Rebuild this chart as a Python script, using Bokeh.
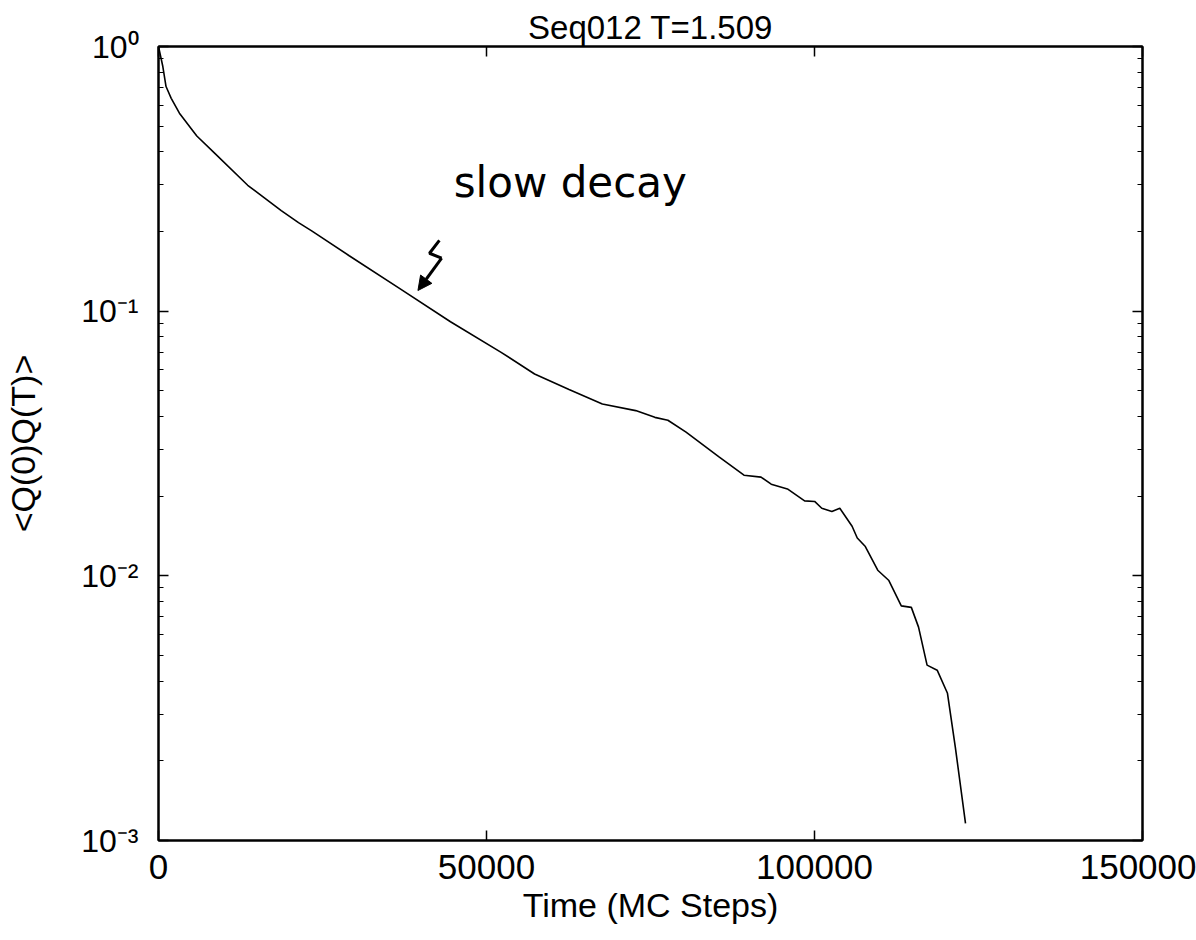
from bokeh.plotting import figure
from bokeh.models import (LogAxis, LinearAxis, FixedTicker, LogTicker, CustomJSTickFormatter,
                          Label, Arrow, NormalHead, Range1d)
from bokeh.embed import file_html
from bokeh.resources import INLINE

# ---- data ----
mc_steps = [0, 660, 1150, 1940, 3190, 5840, 8470, 13600, 18710, 21340, 23350, 29070,
            36790, 44510, 52230, 57330, 62580, 67660, 72740, 75660, 77650, 80420,
            85390, 89250, 91850, 93400, 95870, 98490, 100020, 101110, 102650, 103860,
            105730, 106520, 107750, 109640, 111340, 113230, 114760, 115860, 117160,
            118700, 120270, 121460, 123020]
q_corr = [1.0, 0.84, 0.706, 0.637, 0.56, 0.459, 0.397, 0.299, 0.240, 0.216, 0.201, 0.162,
          0.1216, 0.0912, 0.0699, 0.0579, 0.0506, 0.0446, 0.0421, 0.0397, 0.0387, 0.0349,
          0.0282, 0.0240, 0.0236, 0.0222, 0.0213, 0.0192, 0.0191, 0.0180, 0.0175, 0.0180,
          0.0154, 0.0139, 0.0129, 0.0105, 0.0096, 0.0077, 0.0076, 0.0064, 0.0046,
          0.0044, 0.0036, 0.00226, 0.00116]
x_ticks = [0, 50000, 100000, 150000]

# hand-drawn annotation (zig-zag arrow) in data coordinates
note_text = "slow decay"
note_pos = (45000, 0.305)
zig_x = [42820, 41310, 43160]
zig_y = [0.185, 0.1655, 0.1585]
arrow_tip = (39550, 0.1197)

FONT = "Liberation Sans"

p = figure(width=1196, height=940, y_axis_type="log",
           x_range=Range1d(0, 150000), y_range=Range1d(1e-3, 1),
           output_backend="svg", toolbar_location=None,
           min_border_left=158, min_border_right=54, min_border_top=46, min_border_bottom=100)

p.title.text = "Seq012 T=1.509"
p.title.align = "center"
p.title.text_font = FONT
p.title.text_font_size = "33px"
p.title.text_font_style = "normal"
p.title.text_color = "black"
p.title.standoff = 2

p.xgrid.visible = False
p.ygrid.visible = False
p.background_fill_color = "white"
p.border_fill_color = "white"
p.outline_line_color = "black"
p.outline_line_width = 2

sup_js = """
const sup = {"-": "\\u207B", "0": "\\u2070", "1": "\\u00B9", "2": "\\u00B2", "3": "\\u00B3",
             "4": "\\u2074", "5": "\\u2075", "6": "\\u2076", "7": "\\u2077", "8": "\\u2078", "9": "\\u2079"};
const e = Math.round(Math.log10(tick));
return "10" + String(e).split("").map(c => sup[c]).join("");
"""
int_js = "return tick.toFixed(0);"
blank_js = "return '';"

def style_x(ax, labels=True):
    ax.ticker = FixedTicker(ticks=x_ticks, minor_ticks=[])
    ax.major_tick_in = 10
    ax.major_tick_out = 0
    ax.minor_tick_in = 0
    ax.minor_tick_out = 0
    ax.axis_line_color = "black"
    ax.axis_line_width = 2
    ax.major_tick_line_color = "black"
    ax.major_tick_line_width = 1.5
    ax.major_label_text_font = FONT
    ax.major_label_text_font_size = "35px"
    ax.major_label_text_color = "black"
    ax.major_label_standoff = 14
    if labels:
        ax.formatter = CustomJSTickFormatter(code=int_js)
    else:
        ax.formatter = CustomJSTickFormatter(code=blank_js)
        ax.major_label_standoff = 0

def style_y(ax, labels=True):
    ax.ticker = LogTicker(num_minor_ticks=10)
    ax.major_tick_in = 10
    ax.major_tick_out = 0
    ax.minor_tick_in = 5
    ax.minor_tick_out = 0
    ax.axis_line_color = "black"
    ax.axis_line_width = 2
    ax.major_tick_line_color = "black"
    ax.major_tick_line_width = 1.5
    ax.minor_tick_line_color = "black"
    ax.minor_tick_line_width = 1.2
    ax.major_label_text_font = FONT
    ax.major_label_text_font_size = "32px"
    ax.major_label_text_color = "black"
    ax.major_label_standoff = 20
    if labels:
        ax.formatter = CustomJSTickFormatter(code=sup_js)
    else:
        ax.formatter = CustomJSTickFormatter(code=blank_js)
        ax.major_label_standoff = 0

style_x(p.xaxis[0])
style_y(p.yaxis[0])

p.xaxis[0].axis_label = "Time (MC Steps)"
p.xaxis[0].axis_label_text_font = FONT
p.xaxis[0].axis_label_text_font_size = "34px"
p.xaxis[0].axis_label_text_font_style = "normal"
p.xaxis[0].axis_label_text_color = "black"
p.xaxis[0].axis_label_standoff = 4

p.yaxis[0].axis_label = "<Q(0)Q(T)>"
p.yaxis[0].axis_label_text_font = FONT
p.yaxis[0].axis_label_text_font_size = "34px"
p.yaxis[0].axis_label_text_font_style = "normal"
p.yaxis[0].axis_label_text_color = "black"
p.yaxis[0].axis_label_standoff = 36

top_ax = LinearAxis()
style_x(top_ax, labels=False)
p.add_layout(top_ax, "above")
right_ax = LogAxis()
style_y(right_ax, labels=False)
p.add_layout(right_ax, "right")

# data curve
p.line(mc_steps, q_corr, line_color="black", line_width=1.6)

# hand-written note with arrow
p.add_layout(Label(x=note_pos[0], y=note_pos[1], text=note_text, text_font="DejaVu Sans",
                   text_font_size="42px", text_color="black",
                   text_align="left", text_baseline="alphabetic"))
p.line(zig_x, zig_y, line_color="black", line_width=3)
p.add_layout(Arrow(x_start=zig_x[-1], y_start=zig_y[-1], x_end=arrow_tip[0], y_end=arrow_tip[1],
                   line_color="black", line_width=3,
                   end=NormalHead(size=14, fill_color="black", line_color="black")))

with open("out.html", "w", encoding="utf-8") as f:
    f.write(file_html(p, INLINE))
